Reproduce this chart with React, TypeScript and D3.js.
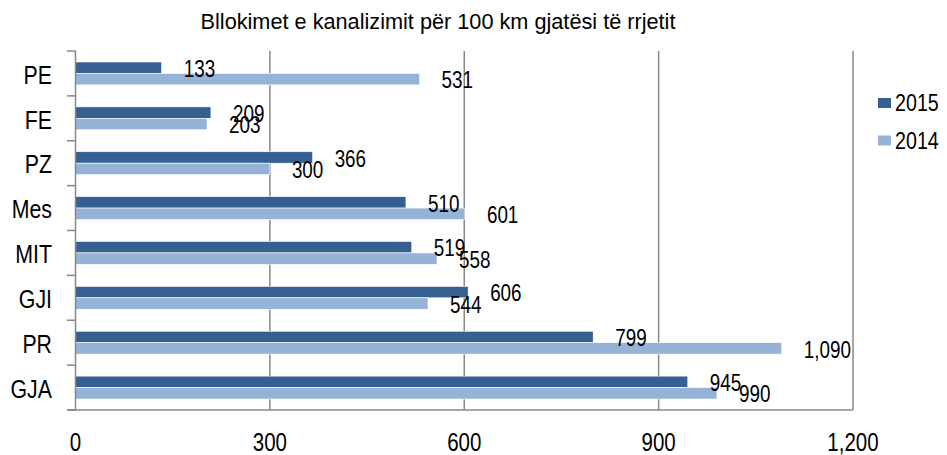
import React from "react";
import * as d3 from "d3";

const categories = ["PE", "FE", "PZ", "Mes", "MIT", "GJI", "PR", "GJA"];
const values2015 = [133, 209, 366, 510, 519, 606, 799, 945];
const values2014 = [531, 203, 300, 601, 558, 544, 1090, 990];
const xTicks = [0, 300, 600, 900, 1200];
const seriesNames = ["2015", "2014"];
const title = "Bllokimet e kanalizimit për 100 km gjatësi të rrjetit";

const W = 947;
const H = 455;
const FONT = "'Liberation Sans', Arial, sans-serif";
const DARK = "#376092";
const LIGHT = "#95B3D7";
const GRID = "#878787";
const NARROW = 0.82;

function NText(props: { x: number; y: number; size: number; anchor?: string; children: React.ReactNode }) {
  return (
    <text
      transform={`translate(${props.x},${props.y}) scale(${NARROW},1)`}
      textAnchor={props.anchor || "start"}
      dominantBaseline="central"
      fontSize={props.size}
      fill="#000"
    >
      {props.children}
    </text>
  );
}

export default function App() {
  const left = 75.5;
  const right = 853;
  const top = 51;
  const bottom = 410;
  const x = d3.scaleLinear().domain([0, 1200]).range([left, right]);
  const y = d3.scaleBand<string>().domain(categories).range([top, bottom]).paddingInner(0).paddingOuter(0);
  const bw = y.bandwidth();
  const barH = bw * 0.255;
  const fmt = d3.format(",");
  const series = [values2015, values2014];
  const colors = [DARK, LIGHT];

  return (
    <svg width={W} height={H} style={{ position: "absolute", left: 0, top: 0, fontFamily: FONT }}>
      <rect width={W} height={H} fill="#fff" />
      <text x={438} y={29} textAnchor="middle" fontSize={21.7} fill="#000">{title}</text>
      {xTicks.slice(1).map((t) => (
        <line key={t} x1={x(t)} x2={x(t)} y1={top} y2={bottom} stroke={GRID} strokeWidth={1.5} />
      ))}
      {categories.map((c, i) =>
        series.map((s, k) => {
          const yy = (y(c) as number) + bw / 2 - barH + k * barH;
          return (
            <rect key={c + k} x={x(0)} y={yy} width={x(s[i]) - x(0)} height={barH} fill={colors[k]} stroke="#fff" strokeWidth={0.6} />
          );
        })
      )}
      {categories.map((c, i) =>
        series.map((s, k) => {
          const yy = (y(c) as number) + bw / 2 - barH + k * barH + barH / 2;
          return (
            <NText key={"l" + c + k} x={x(s[i]) + 22} y={yy + 1} size={23}>
              {fmt(s[i])}
            </NText>
          );
        })
      )}
      <line x1={left} x2={left} y1={top} y2={bottom} stroke={GRID} strokeWidth={1.5} />
      <line x1={67} x2={right} y1={bottom} y2={bottom} stroke={GRID} strokeWidth={1.5} />
      {d3.range(categories.length + 1).map((i) => (
        <line key={"t" + i} x1={67} x2={left} y1={top + i * bw} y2={top + i * bw} stroke={GRID} strokeWidth={1.5} />
      ))}
      {categories.map((c) => (
        <NText key={"c" + c} x={52} y={(y(c) as number) + bw / 2 + 1} anchor="end" size={26}>
          {c}
        </NText>
      ))}
      {xTicks.map((t) => (
        <NText key={"x" + t} x={x(t)} y={442} anchor="middle" size={25}>
          {fmt(t)}
        </NText>
      ))}
      {seriesNames.map((n, k) => (
        <g key={"lg" + n}>
          <rect x={878} y={98 + k * 37.5} width={13} height={10} fill={colors[k]} />
          <NText x={895} y={103 + k * 37.5} size={24}>{n}</NText>
        </g>
      ))}
    </svg>
  );
}
